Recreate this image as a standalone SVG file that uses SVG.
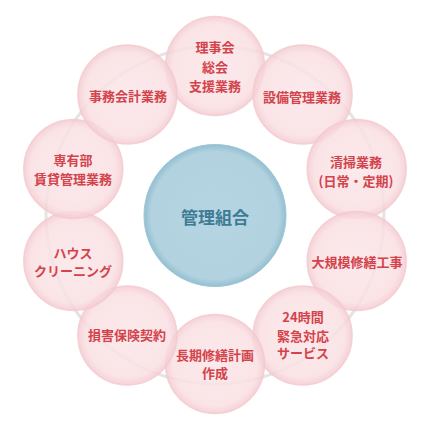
<svg xmlns="http://www.w3.org/2000/svg" width="430" height="430" viewBox="0 0 430 430">
<defs>
<radialGradient id="pk" cx="50%" cy="50%" r="50%">
<stop offset="0%" stop-color="#fbe6e8"/>
<stop offset="85%" stop-color="#f9dfe2"/>
<stop offset="100%" stop-color="#f4cbd0"/>
</radialGradient>
<radialGradient id="bl" cx="50%" cy="50%" r="50%">
<stop offset="0%" stop-color="#b6d5e2"/>
<stop offset="90%" stop-color="#b2d2df"/>
<stop offset="100%" stop-color="#93bfd1"/>
</radialGradient>
<style>
.o{fill:url(#pk);fill-opacity:0.85;stroke:#f3c9ce;stroke-width:1.5;stroke-opacity:0.8}
.t{font-family:"Noto Sans CJK JP","Noto Sans CJK SC",sans-serif;font-size:13px;font-weight:bold;fill:#d3434b;text-anchor:middle}
.c{font-family:"Noto Sans CJK JP","Noto Sans CJK SC",sans-serif;font-size:17px;font-weight:bold;fill:#3e7b95;text-anchor:middle}
</style>
</defs>
<rect width="430" height="430" fill="#ffffff"/>
<g id="connectors">
<circle cx="215" cy="215" r="169" fill="none" stroke="#e4e4e4" stroke-width="3"/>
</g>
<g id="n1"><circle class="o" cx="215" cy="66" r="49.5"/><text class="t" x="215" y="52">理事会</text><text class="t" x="215" y="72">総会</text><text class="t" x="215" y="91">支援業務</text></g>
<g id="n2"><circle class="o" cx="302.6" cy="94.5" r="49.5"/><text class="t" x="302" y="101.5">設備管理業務</text></g>
<g id="n3"><circle class="o" cx="356.7" cy="169" r="49.5"/><text class="t" x="356" y="166.5">清掃業務</text><text class="t" x="356" y="185.5">(日常・定期)</text></g>
<g id="n4"><circle class="o" cx="356.7" cy="261" r="49.5"/><text class="t" x="357" y="266.5">大規模修繕工事</text></g>
<g id="n5"><circle class="o" cx="302.6" cy="335.5" r="49.5"/><text class="t" x="303" y="321.5">24時間</text><text class="t" x="303" y="340.5">緊急対応</text><text class="t" x="303" y="358">サービス</text></g>
<g id="n6"><circle class="o" cx="215" cy="364" r="49.5"/><text class="t" x="215" y="359.5">長期修繕計画</text><text class="t" x="215" y="377.5">作成</text></g>
<g id="n7"><circle class="o" cx="127.4" cy="335.5" r="49.5"/><text class="t" x="127" y="339.5">損害保険契約</text></g>
<g id="n8"><circle class="o" cx="73.3" cy="261" r="49.5"/><text class="t" x="73" y="257.5">ハウス</text><text class="t" x="73" y="275.5">クリーニング</text></g>
<g id="n9"><circle class="o" cx="73.3" cy="169" r="49.5"/><text class="t" x="73" y="164.5">専有部</text><text class="t" x="73" y="183.5">賃貸管理業務</text></g>
<g id="n10"><circle class="o" cx="127.4" cy="94.5" r="49.5"/><text class="t" x="128" y="100.5">事務会計業務</text></g>
<g id="center"><circle cx="215" cy="215.5" r="71" fill="url(#bl)" stroke="#9cc6d6" stroke-width="1"/><text class="c" x="215" y="224">管理組合</text></g>
</svg>
